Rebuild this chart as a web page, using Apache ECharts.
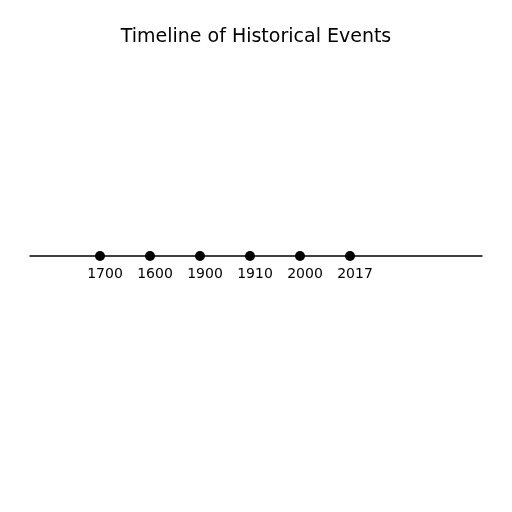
<!DOCTYPE html>
<html>
<head>
<meta charset="utf-8">
<script src="https://cdn.jsdelivr.net/npm/echarts@6/dist/echarts.min.js"></script>
<style>html,body{margin:0;padding:0;background:#fff}#chart{width:512px;height:512px}</style>
</head>
<body>
<div id="chart"></div>
<script>
var positions = [1, 2, 3, 4, 5, 6];
var years = ['1700', '1600', '1900', '1910', '2000', '2017'];

var chart = echarts.init(document.getElementById('chart'));
var points = [];
for (var i = 0; i < positions.length; i++) {
    points.push({ value: [positions[i], 0], name: years[i] });
}
var option = {
    animation: false,
    title: {
        text: 'Timeline of Historical Events',
        left: 'center',
        top: 23,
        textStyle: { fontFamily: 'DejaVu Sans', fontSize: 19, fontWeight: 'normal', color: '#000' }
    },
    grid: { left: 30, right: 30, top: 0, bottom: 0 },
    xAxis: {
        type: 'value', min: -0.4, max: 8.64,
        axisLine: { show: true, onZero: true, lineStyle: { color: '#000', width: 1.5 } },
        axisTick: { show: false }, axisLabel: { show: false }, splitLine: { show: false }
    },
    yAxis: { type: 'value', min: -1, max: 1, show: false },
    series: [{
        type: 'scatter',
        data: points,
        symbolSize: 10,
        itemStyle: { color: '#000', opacity: 1 },
        label: {
            show: true, position: 'bottom', distance: 6, offset: [5, 0],
            formatter: '{b}',
            fontFamily: 'DejaVu Sans', fontSize: 14, color: '#000'
        }
    }]
};
chart.setOption(option);
</script>
</body>
</html>
